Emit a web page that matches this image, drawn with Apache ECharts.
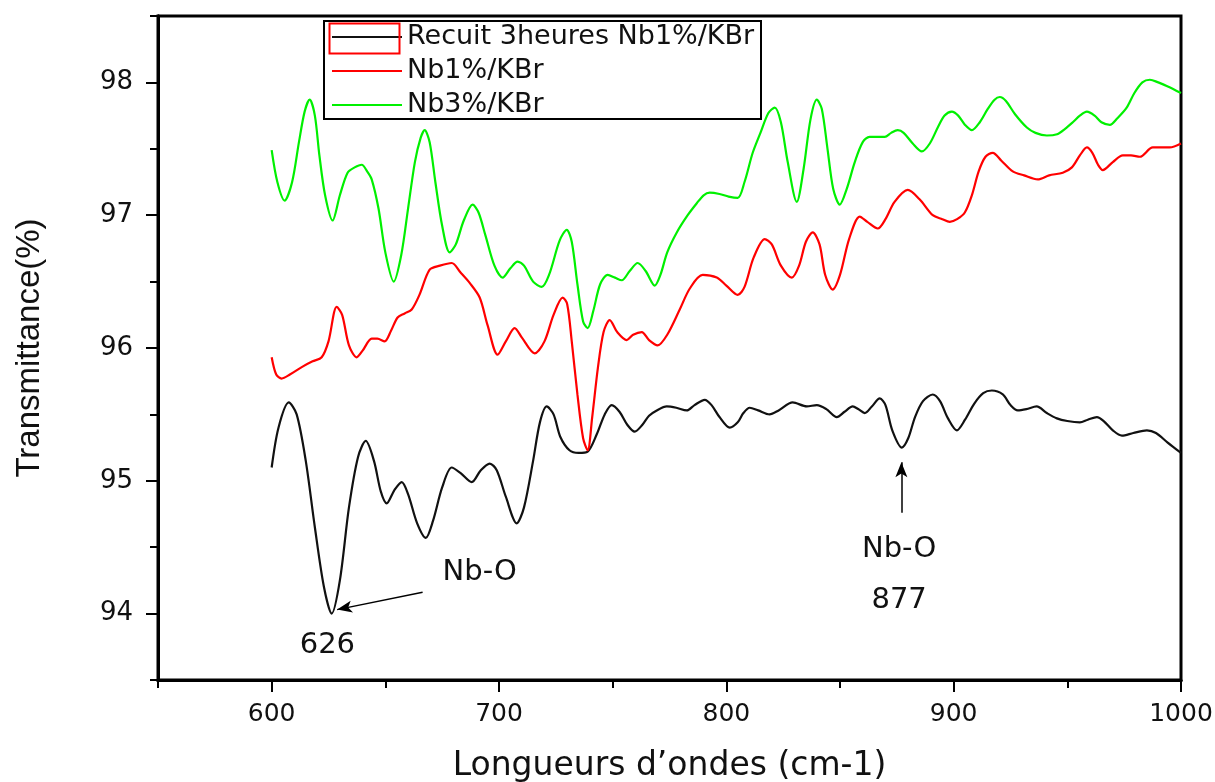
<!DOCTYPE html>
<html>
<head>
<meta charset="utf-8">
<script src="https://cdn.jsdelivr.net/npm/echarts@6/dist/echarts.min.js"></script>
<style>
  html, body { margin: 0; padding: 0; background: #fff; }
  #chart { width: 1215px; height: 782px; }
</style>
</head>
<body>
<div id="chart"></div>
<script>
// FTIR spectra, 600–1000 cm-1
const seriesNames = ['Recuit 3heures Nb1%/KBr', 'Nb1%/KBr', 'Nb3%/KBr'];

const recuitWn = [600,603,607.5,611,615,619,623,626.4,630,634,638,641.4,645,648,650.6,654,657.2,660,664,667.8,671,675,679.2,683,688,692,695.9,699,703,707.8,711,715,718,721,724,727,731,735,739,743,746.5,749.6,753,756.5,759.7,763,766,769.4,773.8,778,782.6,786,790.5,793.5,797,801.5,805,807.5,810.3,814,819,823,829.2,835.4,839.8,844,848.6,852,855.6,858,860.9,864,867.5,870,873,877.2,880,883,886.5,890.8,894,897.5,901.4,905,909,913,916.8,921.6,925,928.2,932,936.5,941,945.4,950,955.5,959,963,966,970,974,979,985,989,994,1000];
const recuitT = [95.10,95.40,95.59,95.50,95.15,94.65,94.20,94.00,94.25,94.80,95.18,95.30,95.15,94.92,94.83,94.93,94.99,94.90,94.68,94.57,94.70,94.95,95.10,95.06,94.99,95.08,95.13,95.08,94.88,94.68,94.80,95.15,95.44,95.56,95.50,95.33,95.23,95.21,95.22,95.35,95.50,95.57,95.52,95.42,95.37,95.42,95.49,95.53,95.56,95.55,95.53,95.57,95.61,95.57,95.48,95.40,95.44,95.51,95.55,95.53,95.50,95.53,95.59,95.56,95.57,95.54,95.48,95.52,95.56,95.54,95.51,95.56,95.62,95.57,95.38,95.25,95.32,95.48,95.60,95.65,95.60,95.47,95.38,95.46,95.58,95.66,95.68,95.65,95.57,95.53,95.54,95.56,95.51,95.47,95.45,95.44,95.46,95.48,95.45,95.38,95.34,95.36,95.38,95.36,95.29,95.21];

const nb1Wn = [600,602,604.4,608,613.6,618,622,625,628.6,631,634,637.4,640,644,646.5,649.7,652.5,655.4,658.5,661.6,665,669.5,674,679.2,683,687.1,691.5,695,699.4,703,706.9,710,715.7,720,724,728,730,732,734.5,737,739,741,743.5,746,748.7,752,756.2,759,762.8,766,769.8,774,779.5,784,789.6,795.8,800,805,808,812,816.9,820,824,828.8,832,835,838,841,843.5,846.8,850,854,858.7,862,866.6,870,874,879.8,885,890.8,895,898.3,901.5,904.9,908,911,914,917.2,921,926,931,937,942,948,952,955.5,958.6,961,963.5,965.6,970,974.4,978,981.9,987.6,995,1000];
const nb1T = [95.93,95.80,95.77,95.80,95.86,95.90,95.93,96.05,96.31,96.25,96.02,95.93,95.98,96.07,96.07,96.05,96.13,96.23,96.26,96.29,96.40,96.59,96.62,96.64,96.57,96.49,96.38,96.17,95.95,96.05,96.15,96.08,95.96,96.05,96.25,96.38,96.33,96.05,95.65,95.32,95.23,95.48,95.85,96.12,96.21,96.12,96.06,96.10,96.12,96.06,96.02,96.10,96.29,96.45,96.55,96.53,96.47,96.40,96.46,96.68,96.82,96.78,96.62,96.53,96.62,96.80,96.87,96.78,96.55,96.44,96.55,96.82,96.99,96.95,96.90,96.97,97.10,97.19,97.12,97.00,96.97,96.95,96.97,97.02,97.15,97.33,97.44,97.47,97.41,97.33,97.30,97.27,97.30,97.32,97.36,97.45,97.51,97.47,97.38,97.34,97.40,97.45,97.45,97.44,97.51,97.51,97.54];

const nb3Wn = [600,602.5,605.7,609,612,614.5,616.7,619,621,623.5,626.8,630,633.4,636.5,639.6,642,644,647,650,653.7,657,660,663,665.5,667.3,669.5,672,675,678.3,681,684.5,688.4,691,694,698,701.6,705,708.2,711,715,718.8,722,726.7,729.8,732,734.5,737,739,741.5,744.5,747.8,751,754,757.5,761,764.5,768.5,771,774,778.2,783,787,790,792.7,797,801,805,808,811.6,815,818.5,821.3,824,827,831,834,837,839.8,842,844.5,847,849.9,853,856.5,860,863,866.2,869.7,872.5,875.4,878,882,886,889.5,893,896,899.2,902,905,908,911.5,915,918,920.3,923,927,932.2,936,941,945.5,949,952.4,955.5,958.6,962,965,968.7,972,976.1,979.5,983,986.3,990,994.2,1000];
const nb3T = [97.49,97.25,97.11,97.25,97.55,97.78,97.87,97.75,97.45,97.15,96.96,97.15,97.32,97.36,97.38,97.33,97.27,97.05,96.72,96.50,96.70,97.05,97.40,97.58,97.64,97.55,97.25,96.92,96.72,96.78,96.96,97.08,97.02,96.85,96.62,96.53,96.60,96.65,96.62,96.50,96.46,96.55,96.81,96.89,96.80,96.48,96.20,96.15,96.28,96.48,96.55,96.53,96.51,96.58,96.64,96.58,96.47,96.55,96.72,96.87,97.00,97.09,97.15,97.17,97.16,97.14,97.13,97.25,97.47,97.62,97.77,97.81,97.70,97.40,97.10,97.35,97.72,97.87,97.80,97.50,97.20,97.08,97.20,97.40,97.55,97.59,97.59,97.59,97.62,97.64,97.62,97.54,97.48,97.54,97.66,97.75,97.78,97.75,97.68,97.64,97.70,97.80,97.87,97.89,97.86,97.76,97.66,97.62,97.60,97.61,97.65,97.70,97.75,97.78,97.75,97.70,97.68,97.73,97.81,97.92,98.00,98.02,98.00,97.97,97.92];

// axis ticks
const xMajorTicks = [600, 700, 800, 900, 1000];
const xMinorTicks = [550, 650, 750, 850, 950];
const yMajorTicks = [94, 95, 96, 97, 98];
const yMinorTicks = [93.5, 94.5, 95.5, 96.5, 97.5, 98.5];

// Nb-O bands picked out on the annealed spectrum
const bandPeaks = [626, 877];

const pair = (xs, ys) => xs.map((x, i) => [x, ys[i]]);

const txt = '#111';
const labelFont = 'DejaVu Sans';

const chart = echarts.init(document.getElementById('chart'), null, { renderer: 'canvas' });

const baseX = {
  type: 'value', min: 550, max: 1000, position: 'bottom',
  axisLine: { show: true, onZero: false, lineStyle: { color: '#000', width: 3 } },
  splitLine: { show: false }
};
const baseY = {
  type: 'value', min: 93.5, max: 98.5, position: 'left',
  axisLine: { show: true, onZero: false, lineStyle: { color: '#000', width: 3 } },
  splitLine: { show: false }
};

chart.setOption({
  animation: false,
  backgroundColor: '#fff',
  grid: {
    left: 158, right: 34, top: 16, bottom: 102,
    outerBoundsMode: 'none', containLabel: false,
    show: true, borderColor: '#000', borderWidth: 3, backgroundColor: 'transparent'
  },
  xAxis: [
    Object.assign({}, baseX, {
      name: 'Longueurs d\u2019ondes (cm-1)', nameLocation: 'middle', nameGap: 70,
      nameTextStyle: { fontFamily: labelFont, fontSize: 33, color: txt },
      axisTick: { show: true, inside: false, length: 12, lineStyle: { width: 2, color: '#000' }, customValues: xMajorTicks },
      axisLabel: { show: true, margin: 22, fontFamily: labelFont, fontSize: 25, color: txt, customValues: xMajorTicks, formatter: v => String(v) }
    }),
    Object.assign({}, baseX, {
      axisTick: { show: true, inside: false, length: 8, lineStyle: { width: 2, color: '#000' }, customValues: xMinorTicks },
      axisLabel: { show: false }
    })
  ],
  yAxis: [
    Object.assign({}, baseY, {
      name: 'Transmittance(%)', nameLocation: 'middle', nameGap: 112,
      nameTextStyle: { fontFamily: 'Liberation Sans', fontSize: 33, color: txt },
      axisTick: { show: true, inside: false, length: 12, lineStyle: { width: 2, color: '#000' }, customValues: yMajorTicks },
      axisLabel: { show: true, margin: 25, fontFamily: labelFont, fontSize: 26, color: txt, customValues: yMajorTicks }
    }),
    Object.assign({}, baseY, {
      axisTick: { show: true, inside: false, length: 8, lineStyle: { width: 2, color: '#000' }, customValues: yMinorTicks },
      axisLabel: { show: false }
    })
  ],
  legend: {
    orient: 'vertical', left: 327, top: 18,
    icon: 'rect', itemWidth: 70, itemHeight: 2, itemGap: 6,
    data: seriesNames,
    textStyle: { fontFamily: labelFont, fontSize: 27, color: txt, lineHeight: 28 },
    z: 6
  },
  graphic: [
    { type: 'rect', left: 323, top: 20, z: 3, shape: { width: 437, height: 98 }, style: { fill: '#fff', stroke: '#000', lineWidth: 2 } },
    { type: 'rect', left: 327, top: 21, z: 7, shape: { width: 70, height: 30 }, style: { fill: 'none', stroke: '#ff0000', lineWidth: 2 } }
  ],
  series: [
    {
      name: seriesNames[0], type: 'line', data: pair(recuitWn, recuitT),
      symbol: 'none', smooth: 0.3, lineStyle: { color: '#111', width: 2.2 }, itemStyle: { color: '#111' },
      markLine: {
        silent: true, animation: false,
        symbol: ['none', 'arrow'], symbolSize: [9, 15],
        label: { show: false },
        lineStyle: { color: '#000', width: 1.5, type: 'solid' },
        data: [
          [{ coord: [666.4, 94.16] }, { coord: [bandPeaks[0] + 2.8, 94.03] }],
          [{ coord: [bandPeaks[1], 94.76] }, { coord: [bandPeaks[1], 95.14] }]
        ]
      },
      markPoint: {
        silent: true, animation: false, symbol: 'circle', symbolSize: 0,
        label: { show: true, position: 'inside', fontFamily: labelFont, fontSize: 29, color: txt },
        data: [
          { coord: [691.5, 94.31], value: 'Nb-O' },
          { coord: [bandPeaks[0] - 1.5, 93.76], value: String(bandPeaks[0]) },
          { coord: [bandPeaks[1] - 1, 94.48], value: 'Nb-O' },
          { coord: [bandPeaks[1] - 1, 94.10], value: String(bandPeaks[1]) }
        ]
      }
    },
    {
      name: seriesNames[1], type: 'line', data: pair(nb1Wn, nb1T),
      symbol: 'none', smooth: 0.3, lineStyle: { color: '#ff0000', width: 2.2 }, itemStyle: { color: '#ff0000' }
    },
    {
      name: seriesNames[2], type: 'line', data: pair(nb3Wn, nb3T),
      symbol: 'none', smooth: 0.3, lineStyle: { color: '#00f000', width: 2.2 }, itemStyle: { color: '#00f000' }
    }
  ]
});
</script>
</body>
</html>
